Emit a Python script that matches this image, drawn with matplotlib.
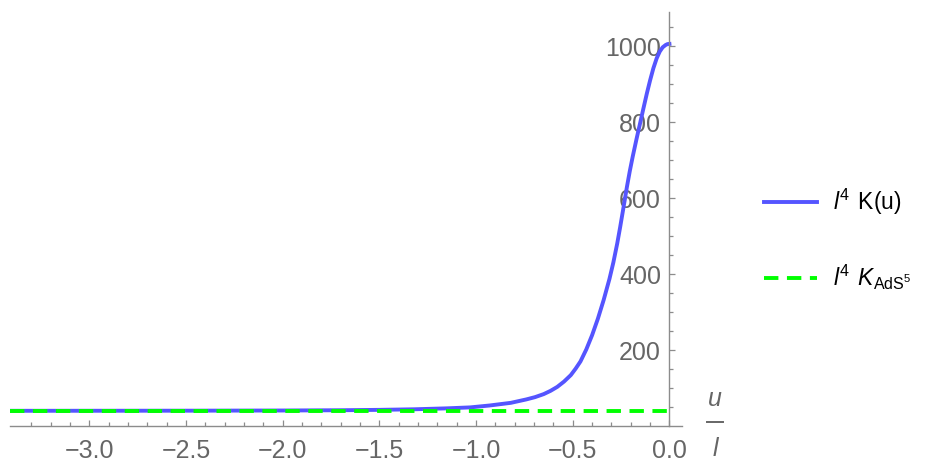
import matplotlib
matplotlib.use("Agg")
import numpy as np
import matplotlib.pyplot as plt
from matplotlib.lines import Line2D
from matplotlib.ticker import FixedLocator

# values
u_vals = [-3.41, -3.0, -2.5, -2.0, -1.7, -1.5, -1.32, -1.15, -1.03, -0.93,
          -0.82, -0.74, -0.695, -0.65, -0.615, -0.58, -0.545, -0.51, -0.485,
          -0.46, -0.43, -0.40, -0.37, -0.34, -0.31, -0.29, -0.27, -0.255,
          -0.24, -0.22, -0.205, -0.19, -0.17, -0.15, -0.135, -0.117, -0.10,
          -0.083, -0.066, -0.05, -0.035, -0.02, -0.01, 0.0]
k_vals = [40, 40.1, 40.3, 40.8, 41.5, 42.5, 44, 46.5, 49, 54,
          61, 70, 76, 84, 92.5, 103, 117, 134, 151,
          170, 201.5, 239, 282.5, 332, 387.5, 430.5, 480.5, 523,
          568, 629, 671, 709, 756, 801, 835, 875, 910,
          942, 968, 986, 997, 1003, 1005.5, 1006]
k_ads5 = 40
u_ends = [-3.41, 0.0]

x_major = [-3.0, -2.5, -2.0, -1.5, -1.0, -0.5, 0.0]
y_major = [200, 400, 600, 800, 1000]

plt.rcParams['font.family'] = 'Liberation Sans'
plt.rcParams['mathtext.fontset'] = 'custom'
plt.rcParams['mathtext.rm'] = 'Liberation Sans'
plt.rcParams['mathtext.it'] = 'Liberation Sans:italic'

W, H = 935, 461
fig = plt.figure(figsize=(W / 100, H / 100), dpi=100)
ax = fig.add_axes([10 / W, 35 / H, 672 / W, 414 / H])

blue, = ax.plot(u_vals, k_vals, color='#5555ff', lw=2.8,
                solid_joinstyle='round')
green, = ax.plot(u_ends, [k_ads5, k_ads5], color='#00ff00', lw=2.8,
                 ls=(0, (3.7, 2.2)))

ax.set_xlim(-3.41, 0.065)
ax.set_ylim(0, 1090)

axis_col = '#8c8c8c'
label_col = '#666666'
for s in ['top', 'right']:
    ax.spines[s].set_visible(False)
ax.spines['left'].set_position(('data', 0))
ax.spines['bottom'].set_position(('data', 0))
for s in ['left', 'bottom']:
    ax.spines[s].set_color(axis_col)
    ax.spines[s].set_linewidth(1.0)

ax.xaxis.set_major_locator(FixedLocator(x_major))
ax.xaxis.set_minor_locator(FixedLocator(np.round(np.arange(-3.3, 0.001, 0.1), 2)))
ax.yaxis.set_major_locator(FixedLocator(y_major))
ax.yaxis.set_minor_locator(FixedLocator(np.arange(50, 1051, 50)))
ax.set_xticklabels([f"{v:.1f}".replace('-', '\u2212') for v in x_major])

ax.tick_params(which='both', direction='in', color=axis_col, width=0.9,
               labelcolor=label_col, labelsize=18)
ax.tick_params(which='major', length=4.5)
ax.tick_params(which='minor', length=2.8)
ax.tick_params(axis='x', pad=9)
ax.tick_params(axis='y', pad=6)

# u/l axis label drawn as a stacked fraction
fig.text(715 / W, 1 - 406 / H, 'u', fontsize=18, style='italic',
         color=label_col, ha='center', va='baseline')
fig.lines.append(Line2D([707 / W, 723 / W], [1 - 421.7 / H] * 2,
                        transform=fig.transFigure, color=label_col, lw=1.4))
fig.text(715 / W, 1 - 456 / H, 'l', fontsize=18, style='italic',
         color=label_col, ha='center', va='baseline')

fig.legend([blue, green],
           [r'$\mathit{l}^{4}\;\,\mathrm{K(u)}$',
            r'$\mathit{l}^{4}\;\,K_{\mathrm{AdS}^{5}}$'],
           loc='center left', bbox_to_anchor=(764 / W, 1 - 239 / H),
           frameon=False, fontsize=16.5, handlelength=2.3, handletextpad=0.7,
           labelspacing=2.0, borderpad=0, borderaxespad=0)

fig.savefig('out.png', dpi=100)
